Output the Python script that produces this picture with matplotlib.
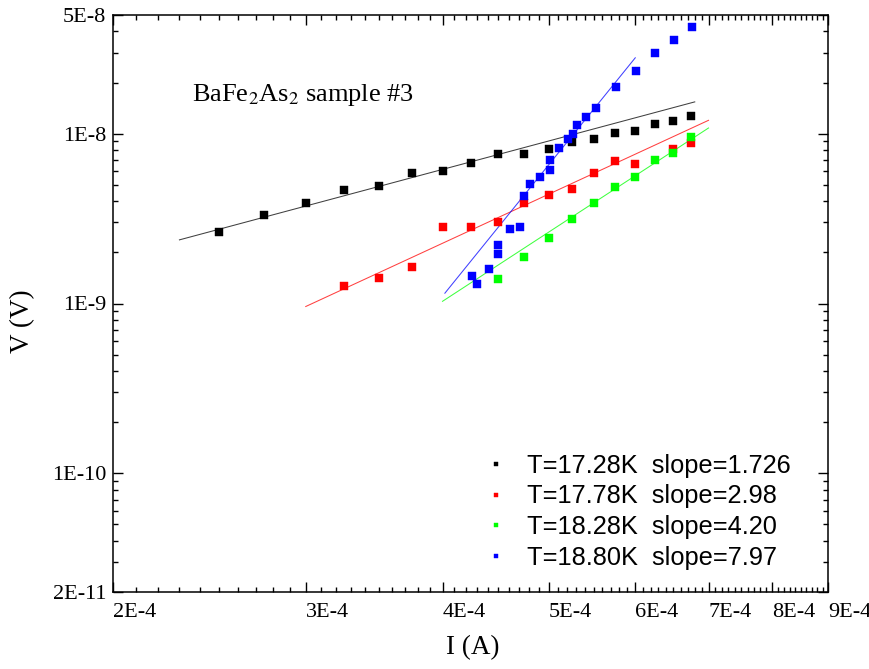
import numpy as np
import matplotlib
matplotlib.use("Agg")
import matplotlib.pyplot as plt
from matplotlib.ticker import FixedLocator, NullFormatter

plt.rcParams['font.family'] = ['Liberation Serif', 'DejaVu Serif']
plt.rcParams['mathtext.fontset'] = 'stix'

# Current (A) and voltage (V) measurements
I_1728 = np.array([2.50, 2.75, 3.00, 3.25, 3.50, 3.75, 4.00, 4.25, 4.50, 4.75,
                   5.00, 5.25, 5.50, 5.75, 6.00, 6.25, 6.50, 6.75]) * 1e-4
V_1728 = np.array([2.64, 3.33, 3.93, 4.63, 4.89, 5.86, 5.99, 6.71, 7.61, 7.61,
                   8.14, 8.92, 9.32, 10.16, 10.43, 11.42, 11.94, 12.79]) * 1e-9

I_1778 = np.array([3.25, 3.50, 3.75, 4.00, 4.25, 4.50, 4.75, 5.00, 5.25, 5.50,
                   5.75, 6.00, 6.50, 6.75]) * 1e-4
V_1778 = np.array([1.26, 1.41, 1.63, 2.83, 2.83, 3.03, 3.90, 4.35, 4.72, 5.86,
                   6.92, 6.65, 8.11, 8.87]) * 1e-9

I_1828 = np.array([4.50, 4.75, 5.00, 5.25, 5.50, 5.75, 6.00, 6.25, 6.50, 6.75]) * 1e-4
V_1828 = np.array([1.40, 1.89, 2.42, 3.15, 3.93, 4.86, 5.57, 7.02, 7.74, 9.54]) * 1e-9

I_1880 = np.array([4.26, 4.30, 4.41, 4.50, 4.50, 4.61, 4.71, 4.75, 4.81, 4.91,
                   5.01, 5.01, 5.11, 5.21, 5.26, 5.31, 5.41, 5.52, 5.76, 6.01,
                   6.26, 6.51, 6.76]) * 1e-4
V_1880 = np.array([1.46, 1.30, 1.59, 1.96, 2.22, 2.73, 2.84, 4.31, 5.05, 5.55,
                   6.10, 6.99, 8.26, 9.35, 9.91, 11.3, 12.5, 14.2, 18.9, 23.5,
                   29.8, 35.6, 42.7]) * 1e-9

temperatures = ["17.28", "17.78", "18.28", "18.80"]
colors = ["#000000", "#ff0000", "#00ff00", "#0000ff"]

# Power-law fits V = V0 * (I / I0) ** slope
fit_slope_labels = ["1.726", "2.98", "4.20", "7.97"]
fit_slope = [float(s) for s in fit_slope_labels]
fit_I_start = [2.30e-4, 3.00e-4, 4.00e-4, 4.02e-4]
fit_I_end = [6.80e-4, 7.00e-4, 7.00e-4, 6.00e-4]
fit_V_start = [2.37e-9, 9.6e-10, 1.03e-9, 1.15e-9]

x_major = [2e-4, 3e-4, 4e-4, 5e-4, 6e-4, 7e-4, 8e-4, 9e-4]
x_major_labels = ["2E-4", "3E-4", "4E-4", "5E-4", "6E-4", "7E-4", "8E-4", "9E-4"]
y_major = [2e-11, 1e-10, 1e-9, 1e-8, 5e-8]
y_major_labels = ["2E-11", "1E-10", "1E-9", "1E-8", "5E-8"]

series = [(I_1728, V_1728), (I_1778, V_1778), (I_1828, V_1828), (I_1880, V_1880)]

fig = plt.figure(figsize=(8.7, 6.69), dpi=100)
ax = fig.add_axes([113 / 870, 1 - 592 / 669, (828 - 113) / 870, (592 - 15) / 669])
ax.set_xscale('log')
ax.set_yscale('log')

handles = []
for (I, V), T, c, s in zip(series, temperatures, colors, fit_slope_labels):
    h, = ax.plot(I, V, 's', color=c, ms=6.0, mec=c, mew=0.3, ls='none',
                 label=f"T={T}K  slope={s}")
    handles.append(h)

for s, i0, i1, v0, c in zip(fit_slope, fit_I_start, fit_I_end, fit_V_start, colors):
    Ifit = np.geomspace(i0, i1, 50)
    ax.plot(Ifit, v0 * (Ifit / i0) ** s, '-', color=c, lw=0.75, alpha=0.75, zorder=1.5)

ax.set_xlim(2e-4, 9e-4)
ax.set_ylim(2e-11, 5e-8)

ax.xaxis.set_major_locator(FixedLocator(x_major))
ax.set_xticklabels(x_major_labels)
x_minor = [v * 1e-5 for v in range(20, 91) if v % 10 != 0]
ax.xaxis.set_minor_locator(FixedLocator(x_minor))
ax.xaxis.set_minor_formatter(NullFormatter())

ax.yaxis.set_major_locator(FixedLocator(y_major))
ax.set_yticklabels(y_major_labels)
y_minor = [m * 10.0 ** e for e in range(-11, -7) for m in range(2, 10)]
y_minor = [v for v in y_minor if 2e-11 < v < 5e-8 and v not in y_major]
ax.yaxis.set_minor_locator(FixedLocator(y_minor))
ax.yaxis.set_minor_formatter(NullFormatter())

ax.tick_params(which='both', direction='in', top=True, right=True, width=1.0)
ax.tick_params(which='major', length=7.5, labelsize=16)
ax.tick_params(which='minor', length=3.5)
ax.tick_params(axis='x', which='major', pad=8)
ax.tick_params(axis='y', which='major', pad=5)
for lab in ax.get_xticklabels():
    lab.set_horizontalalignment('left')
for sp in ax.spines.values():
    sp.set_linewidth(1.1)

ax.set_xlabel("I (A)", fontsize=19.5)
ax.xaxis.set_label_coords(0.503, -0.075)
ax.set_ylabel("V (V)", fontsize=19.5)
ax.yaxis.set_label_coords(-0.109, 0.47)

ax.text(0.1105, 0.8515, "BaFe$_2$As$_2$ sample #3", transform=ax.transAxes,
        fontsize=19, ha='left', va='baseline')

leg = ax.legend(handles=handles, loc='upper left', bbox_to_anchor=(0.503, 0.257),
                frameon=False, prop={'family': 'Liberation Sans', 'size': 18.3},
                handlelength=1.0, handletextpad=0.72, labelspacing=0.26,
                markerscale=0.6, borderaxespad=0)

fig.savefig("out.png", dpi=100)
